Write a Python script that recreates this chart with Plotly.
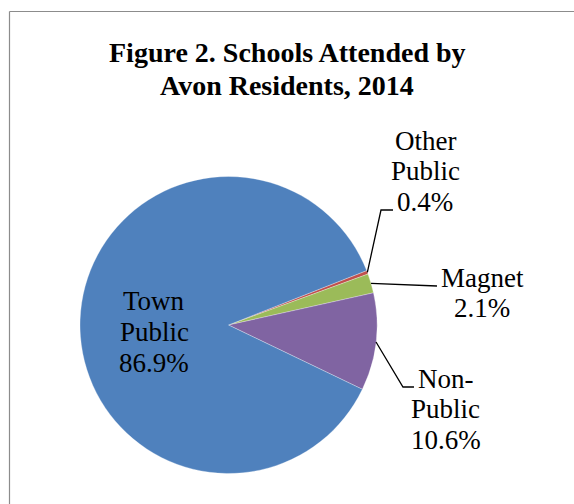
import math
import plotly.graph_objects as go

# data
categories = ["Other Public", "Magnet", "Non-Public", "Town Public"]
shares = [0.4, 2.1, 10.6, 86.9]
colors = ["#C0504D", "#9BBB59", "#8064A2", "#4F81BD"]
label_lines = [
    ["Other", "Public", "0.4%"],
    ["Magnet", "2.1%"],
    ["Non-", "Public", "10.6%"],
    ["Town", "Public", "86.9%"],
]
title_lines = ["Figure 2. Schools Attended by", "Avon Residents, 2014"]

W, H = 574, 504
CX, CY, R = 228.5, 325, 148.5
ROTATION = 68.5
FONT = "Liberation Serif, Times New Roman, serif"


def px(x):
    return x / W


def py(y):
    return 1 - y / H


fig = go.Figure()
fig.add_trace(
    go.Pie(
        labels=categories,
        values=shares,
        sort=False,
        direction="clockwise",
        rotation=ROTATION,
        marker=dict(colors=colors, line=dict(color="rgba(255,255,255,0.6)", width=0.5)),
        textinfo="none",
        hoverinfo="label+percent",
        showlegend=False,
        domain=dict(x=[px(CX - R), px(CX + R)], y=[py(CY + R), py(CY - R)]),
    )
)

# mid-angle of each slice on the rim (clockwise from 12 o'clock)
total = sum(shares)
rim = []
acc = 0
for v in shares:
    mid = ROTATION + (acc + v / 2) / total * 360
    acc += v
    a = math.radians(mid)
    rim.append((CX + R * math.sin(a), CY - R * math.cos(a)))

# leader line bends (pixels)
bends = {
    0: [(381, 210), (393, 210)],
    1: [(437, 286)],
    2: [(403, 387), (414, 387)],
}

shapes = []
for i, pts in bends.items():
    path = [rim[i]] + pts
    d = "M " + " L ".join(f"{px(x):.5f},{py(y):.5f}" for x, y in path)
    shapes.append(dict(type="path", path=d, xref="paper", yref="paper",
                       line=dict(color="black", width=1.3)))

# chart border: only the top and left edges are visible in the crop
shapes.append(dict(type="line", xref="paper", yref="paper",
                   x0=px(9.5), y0=py(11.5), x1=1, y1=py(11.5),
                   line=dict(color="#8c8c8c", width=1.2)))
shapes.append(dict(type="line", xref="paper", yref="paper",
                   x0=px(9.5), y0=py(11.5), x1=px(9.5), y1=0,
                   line=dict(color="#8c8c8c", width=1.2)))

# label centre x and first baseline, line step (pixels)
label_anchor = [(425, 150, 30.5), (482, 286.7, 30), (446, 388, 30.5), (154, 310, 31)]

LABEL_SIZE = 27
TITLE_SIZE = 28

annotations = []
for lines, (x, y0, step) in zip(label_lines, label_anchor):
    for k, line in enumerate(lines):
        base = y0 + k * step
        annotations.append(dict(text=line, x=px(x), y=py(base - 0.34 * LABEL_SIZE),
                                xref="paper", yref="paper", showarrow=False,
                                xanchor="center", yanchor="middle",
                                font=dict(family=FONT, size=LABEL_SIZE, color="black")))

for k, line in enumerate(title_lines):
    base = 62 + k * 33
    annotations.append(dict(text=f"<b>{line}</b>", x=px(287), y=py(base - 0.34 * TITLE_SIZE),
                            xref="paper", yref="paper", showarrow=False,
                            xanchor="center", yanchor="middle",
                            font=dict(family=FONT, size=TITLE_SIZE, color="black")))

fig.update_layout(
    width=W,
    height=H,
    margin=dict(l=0, r=0, t=0, b=0),
    paper_bgcolor="white",
    plot_bgcolor="white",
    shapes=shapes,
    annotations=annotations,
)

fig.write_html(
    "out.html",
    config={"displayModeBar": False},
    post_script="document.body.style.margin='0';document.body.style.overflow='hidden';",
)
